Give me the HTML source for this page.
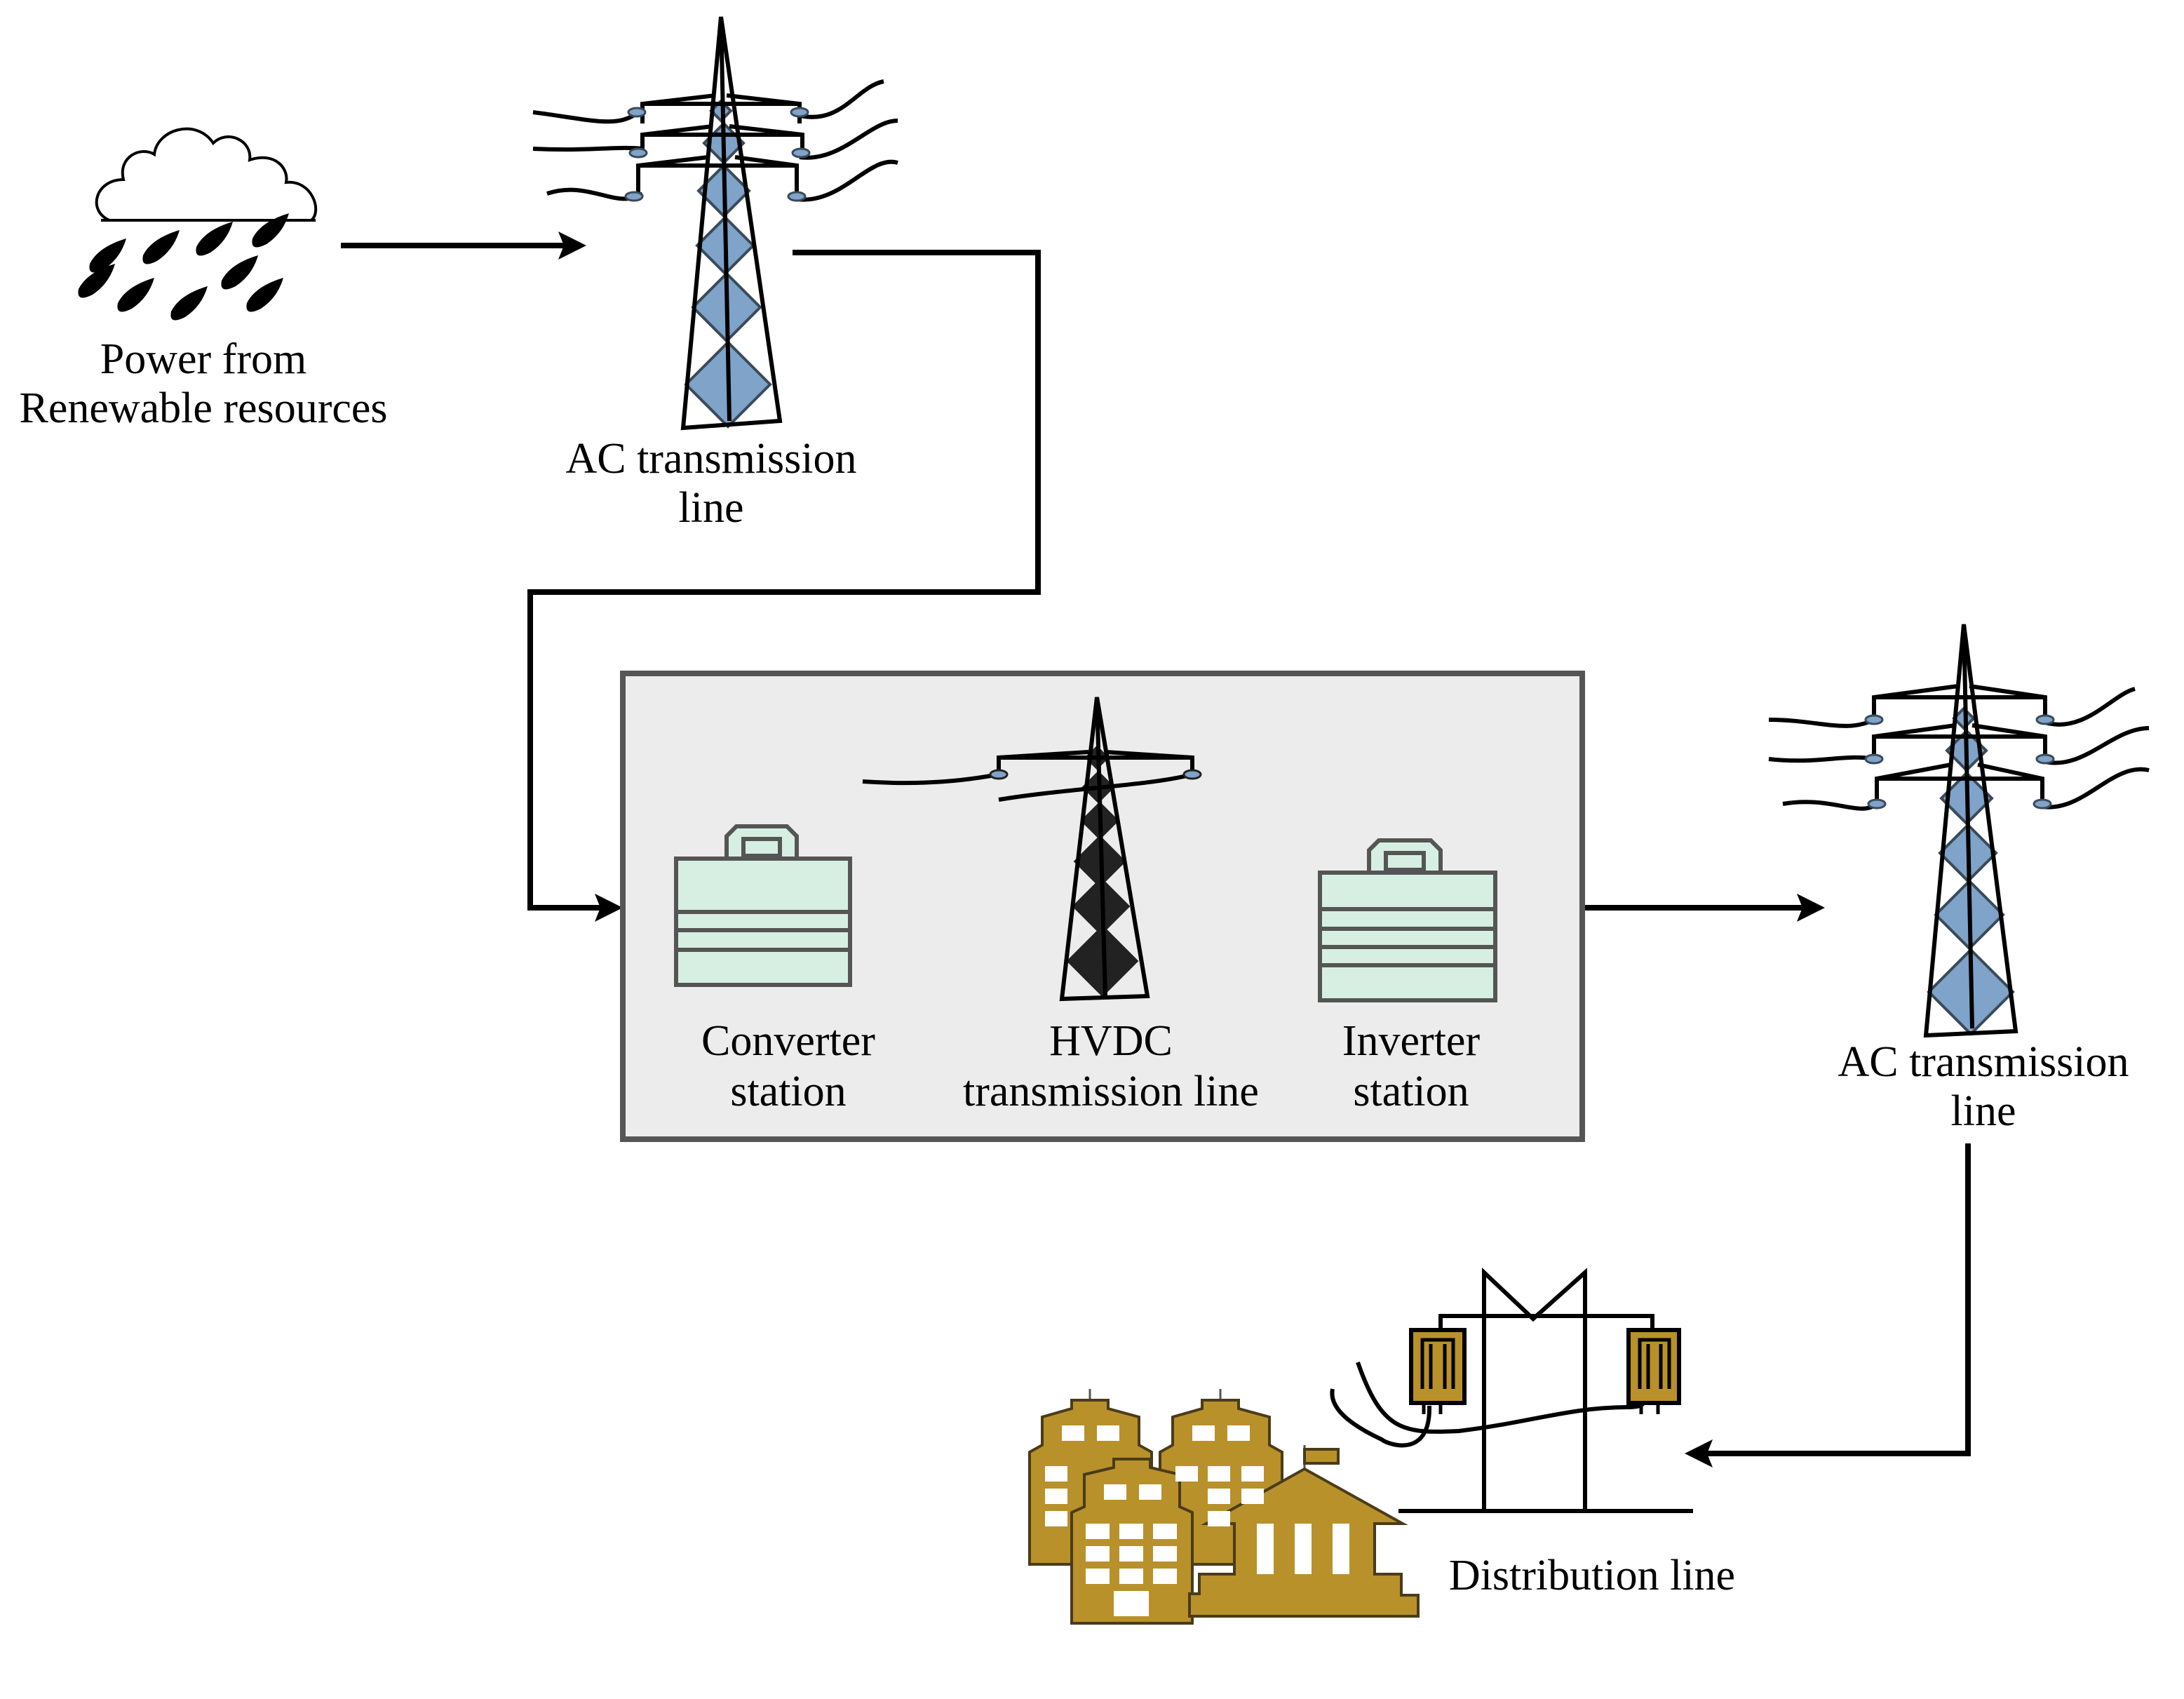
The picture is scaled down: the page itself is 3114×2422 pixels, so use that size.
<!DOCTYPE html>
<html><head><meta charset="utf-8"><style>html,body{margin:0;padding:0;background:#fff}svg{display:block}</style></head><body>
<svg width="3114" height="2422" viewBox="0 0 1557 1211" xmlns="http://www.w3.org/2000/svg" font-family="Liberation Serif, serif" font-size="31">
<defs>
<path id="drop" d="M0,0 q6,-12 26,-18 q-4,14 -16,22 q-12,6 -10,-4z"/>
</defs>
<!-- cloud -->
<path d="M78,157 C62,150 68,128 88,128 C84,112 100,104 110,110 C112,92 140,84 152,102 C162,92 180,100 178,114 C196,108 206,120 204,130 C222,128 230,150 222,157 Z" fill="#fff" stroke="#000" stroke-width="2"/>
<line x1="72" y1="157" x2="225" y2="157" stroke="#000" stroke-width="2"/>
<g fill="#000">
<use href="#drop" x="64" y="188"/><use href="#drop" x="102" y="182"/><use href="#drop" x="140" y="176"/><use href="#drop" x="180" y="170"/>
<use href="#drop" x="56" y="206"/><use href="#drop" x="84" y="216"/><use href="#drop" x="122" y="222"/><use href="#drop" x="158" y="200"/><use href="#drop" x="176" y="216"/>
</g>
<text x="145" y="266" text-anchor="middle">Power from</text>
<text x="145" y="301" text-anchor="middle">Renewable resources</text>

<!-- tower1 -->
<g>
<g fill="#7fa3c9" stroke="#3b4a5a" stroke-width="2">
<path d="M514,72 l7,7 l-7,7 l-7,-7z"/>
<path d="M516,88 l14,14 l-14,14 l-14,-14z"/>
<path d="M516,118 l18,18 l-18,18 l-18,-18z"/>
<path d="M517,155 l20,20 l-20,20 l-20,-20z"/>
<path d="M518,195 l24,24 l-24,24 l-24,-24z"/>
<path d="M519,244 l30,30 l-30,30 l-30,-30z"/>
</g>
<g stroke="#000" stroke-width="3" fill="none">
<path d="M514,12 L487,305 L556,300 Z"/>
<line x1="514" y1="12" x2="520" y2="300"/>
<path d="M458,88 V74 L510,68 M518,68 L570,74 V88 M458,74 L570,74"/>
<path d="M458,112 V96 L508,90 M520,90 L572,96 V112 M458,96 L572,96"/>
<path d="M455,140 V118 L505,112 M524,112 L568,118 V140 M455,118 L568,118"/>
<path d="M380,80 C420,85 440,92 455,80"/>
<path d="M380,106 C420,108 440,104 458,106"/>
<path d="M390,138 C420,128 440,150 458,138"/>
<path d="M568,82 C600,90 610,62 630,58"/>
<path d="M570,112 C600,116 620,86 640,86"/>
<path d="M568,142 C600,146 620,110 640,116"/>
</g>
<g fill="#7fa3c9" stroke="#3b4a5a" stroke-width="1.5"><ellipse cx="454" cy="80" rx="6" ry="3"/><ellipse cx="570" cy="80" rx="6" ry="3"/><ellipse cx="455" cy="109" rx="6" ry="3"/><ellipse cx="571" cy="109" rx="6" ry="3"/><ellipse cx="452" cy="140" rx="6" ry="3"/><ellipse cx="568" cy="140" rx="6" ry="3"/></g>
</g>
<text x="507" y="337" text-anchor="middle">AC transmission</text>
<text x="507" y="372" text-anchor="middle">line</text>

<g stroke="#000" stroke-width="4" fill="none">
<line x1="243" y1="175" x2="405" y2="175"/>
<polyline points="565,180 740,180 740,422 378,422 378,647 430,647"/>
<line x1="1128" y1="647" x2="1288" y2="647"/>
<polyline points="1403,815 1403,1036 1215,1036"/>
</g>
<g fill="#000">
<polygon points="418,175 398,165 402,175 398,185"/>
<polygon points="444,647 424,637 428,647 424,657"/>
<polygon points="1301,647 1281,637 1285,647 1281,657"/>
<polygon points="1201,1036 1221,1026 1217,1036 1221,1046"/>
</g>

<!-- box -->
<rect x="444" y="480" width="684" height="332" fill="#ececec" stroke="#555" stroke-width="4"/>
<g fill="#d6efe2" stroke="#555" stroke-width="3">
<path d="M518,612 V596 L525,589 H561 L568,596 V612 Z M530,598 H556 V610 H530 Z"/>
<rect x="482" y="612" width="124" height="90"/>
<line x1="482" y1="650" x2="606" y2="650"/><line x1="482" y1="663" x2="606" y2="663"/><line x1="482" y1="677" x2="606" y2="677"/>
<path d="M976,622 V606 L983,599 H1020 L1027,606 V622 Z M988,608 H1015 V620 H988 Z"/>
<rect x="941" y="622" width="125" height="91"/>
<line x1="941" y1="648" x2="1066" y2="648"/><line x1="941" y1="662" x2="1066" y2="662"/><line x1="941" y1="675" x2="1066" y2="675"/><line x1="941" y1="688" x2="1066" y2="688"/>
</g>
<!-- HVDC tower -->
<g fill="#222" stroke="#222" stroke-width="1">
<path d="M782,532 l8,8 l-8,8 l-8,-8z"/>
<path d="M783,550 l11,11 l-11,11 l-11,-11z"/>
<path d="M784,572 l13,13 l-13,13 l-13,-13z"/>
<path d="M784,596 l18,18 l-18,18 l-18,-18z"/>
<path d="M785,626 l20,20 l-20,20 l-20,-20z"/>
<path d="M786,660 l25,25 l-25,25 l-25,-25z"/>
</g>
<g stroke="#000" stroke-width="3" fill="none">
<path d="M782,497 L757,712 L818,710 Z"/>
<line x1="782" y1="497" x2="788" y2="710"/>
<path d="M712,553 V540 L776,536 M788,536 L850,540 V553 M712,540 L850,540"/>
<path d="M615,557 C660,560 690,556 712,552"/>
<path d="M712,570 C760,562 820,560 850,552"/>
</g>
<g fill="#7fa3c9" stroke="#222" stroke-width="1.5"><ellipse cx="712" cy="552" rx="6" ry="3"/><ellipse cx="850" cy="552" rx="6" ry="3"/></g>
<text x="562" y="752" text-anchor="middle">Converter</text>
<text x="562" y="788" text-anchor="middle">station</text>
<text x="792" y="752" text-anchor="middle">HVDC</text>
<text x="792" y="788" text-anchor="middle">transmission line</text>
<text x="1006" y="752" text-anchor="middle">Inverter</text>
<text x="1006" y="788" text-anchor="middle">station</text>

<!-- tower2 -->
<g transform="translate(886,433)">
<g fill="#7fa3c9" stroke="#3b4a5a" stroke-width="2">
<path d="M514,72 l7,7 l-7,7 l-7,-7z"/>
<path d="M516,88 l14,14 l-14,14 l-14,-14z"/>
<path d="M516,118 l18,18 l-18,18 l-18,-18z"/>
<path d="M517,155 l20,20 l-20,20 l-20,-20z"/>
<path d="M518,195 l24,24 l-24,24 l-24,-24z"/>
<path d="M519,244 l30,30 l-30,30 l-30,-30z"/>
</g>
<g stroke="#000" stroke-width="3" fill="none">
<path d="M514,12 L487,305 L551,302 Z"/>
<line x1="514" y1="12" x2="520" y2="300"/>
<path d="M450,80 V64 L510,56 M518,56 L572,64 V80 M450,64 L572,64"/>
<path d="M450,108 V92 L508,84 M520,84 L572,92 V108 M450,92 L572,92"/>
<path d="M452,140 V122 L505,112 M524,112 L570,122 V140 M452,122 L570,122"/>
<path d="M375,80 C410,80 430,90 450,80"/>
<path d="M375,108 C410,112 430,104 450,108"/>
<path d="M385,140 C420,134 440,150 452,140"/>
<path d="M572,82 C600,90 620,62 636,58"/>
<path d="M572,110 C600,116 620,86 646,86"/>
<path d="M570,142 C600,146 620,110 646,116"/>
</g>
<g fill="#7fa3c9" stroke="#3b4a5a" stroke-width="1.5"><ellipse cx="450" cy="80" rx="6" ry="3"/><ellipse cx="572" cy="80" rx="6" ry="3"/><ellipse cx="450" cy="108" rx="6" ry="3"/><ellipse cx="572" cy="108" rx="6" ry="3"/><ellipse cx="452" cy="140" rx="6" ry="3"/><ellipse cx="570" cy="140" rx="6" ry="3"/></g>
</g>
<text x="1414" y="767" text-anchor="middle">AC transmission</text>
<text x="1414" y="802" text-anchor="middle">line</text>

<!-- distribution pole -->
<g stroke="#000" stroke-width="3" fill="none">
<path d="M1058,1077 V907 L1093,940 L1130,907 V1077"/>
<path d="M1027,948 V938 H1178 V948"/>
<line x1="997" y1="1077" x2="1207" y2="1077"/>
<path d="M1019,1002 C1020,1040 990,1030 985,1026 C955,1012 948,1000 950,990"/>
<path d="M968,971 C985,1020 1000,1022 1040,1020 C1090,1014 1120,1003 1160,1003 C1172,1003 1172,1000 1172,998"/>
</g>
<g fill="#b8912a" stroke="#000" stroke-width="3">
<rect x="1006" y="948" width="38" height="52"/>
<rect x="1161" y="948" width="36" height="52"/>
</g>
<g stroke="#000" stroke-width="2.5" fill="none">
<path d="M1014,990 V955 H1036 V990 M1020,958 V990 M1030,958 V990 M1015,1000 V1008 M1027,1000 V1008"/>
<path d="M1169,990 V955 H1190 V990 M1175,958 V990 M1184,958 V990 M1170,1000 V1008 M1182,1000 V1008"/>
</g>
<text x="1135" y="1133" text-anchor="middle">Distribution line</text>

<!-- buildings -->
<g stroke="#555" stroke-width="1.5"><line x1="777" y1="990" x2="777" y2="1000"/><line x1="870" y1="990" x2="870" y2="1000"/><line x1="807" y1="1025" x2="807" y2="1040"/><line x1="930" y1="1030" x2="930" y2="1047"/></g>
<g fill="#b8912a" stroke="#4a3c1a" stroke-width="2">
<path d="M734,1115 V1035 L743,1030 V1010 L764,1004 V998 H790 V1004 L812,1010 V1030 L821,1035 V1115 Z"/>
<path d="M827,1115 V1035 L836,1030 V1010 L857,1004 V998 H883 V1004 L905,1010 V1030 L914,1035 V1115 Z"/>
<path d="M764,1157 V1078 L773,1074 V1051 L794,1046 V1040 H820 V1046 L841,1051 V1074 L850,1078 V1157 Z"/>
<path d="M930,1047 L1000,1086 L980,1086 L980,1122 L999,1122 L999,1137 L1011,1137 L1011,1152 L848,1152 L848,1136 L855,1136 L855,1122 L880,1122 L880,1086 L860,1086 Z"/>
<path d="M930,1033 H954 V1043 H930 Z"/>
</g>
<g fill="#fff">
<rect x="757" y="1016" width="16" height="11"/><rect x="782" y="1016" width="16" height="11"/>
<rect x="850" y="1016" width="16" height="11"/><rect x="875" y="1016" width="16" height="11"/>
<rect x="745" y="1045" width="16" height="11"/><rect x="745" y="1061" width="16" height="11"/><rect x="745" y="1077" width="16" height="11"/>
<rect x="838" y="1045" width="16" height="11"/><rect x="861" y="1045" width="16" height="11"/><rect x="885" y="1045" width="16" height="11"/>
<rect x="861" y="1061" width="16" height="11"/><rect x="885" y="1061" width="16" height="11"/><rect x="861" y="1077" width="16" height="11"/>
<rect x="787" y="1058" width="16" height="11"/><rect x="812" y="1058" width="16" height="11"/>
<rect x="774" y="1086" width="17" height="11"/><rect x="798" y="1086" width="17" height="11"/><rect x="822" y="1086" width="17" height="11"/>
<rect x="774" y="1102" width="17" height="11"/><rect x="798" y="1102" width="17" height="11"/><rect x="822" y="1102" width="17" height="11"/>
<rect x="774" y="1118" width="17" height="11"/><rect x="798" y="1118" width="17" height="11"/><rect x="822" y="1118" width="17" height="11"/>
<rect x="794" y="1134" width="25" height="18"/>
<rect x="896" y="1086" width="12" height="36"/><rect x="923" y="1086" width="12" height="36"/><rect x="950" y="1086" width="12" height="36"/>
</g>
</svg>
</body></html>
